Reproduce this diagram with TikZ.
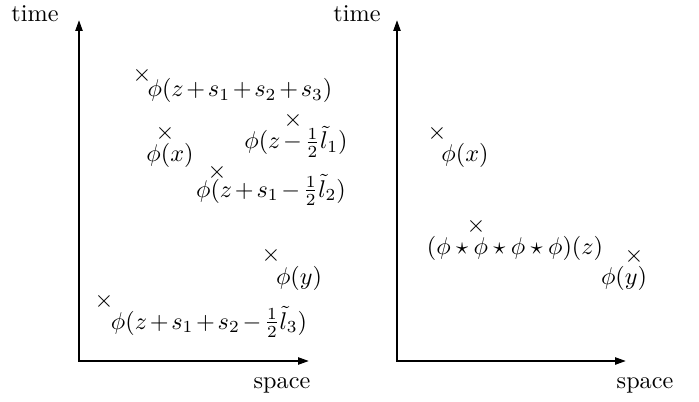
\documentclass[tikz,border=0pt]{standalone}
\usetikzlibrary{arrows.meta}
\newcommand{\tp}{\mskip2mu{+}\mskip2mu}
\newcommand{\tm}{\mskip2mu{-}\mskip2mu}
\begin{document}
\begin{tikzpicture}[x=0.4132pt,y=-0.4132pt,
  axis/.style={line width=0.85pt,line cap=rect,-{Triangle[length=4.5pt,width=2.9pt]}},
  crossmark/.style={inner sep=0pt},
  lbl/.style={anchor=base,inner sep=0pt},
  formula/.style={anchor=base,inner sep=0pt},
]
\useasboundingbox (0,0) rectangle (699,401);
% left axes
\coordinate (o1) at (79,361);
\coordinate (t1) at (79,20);
\coordinate (e1) at (309,361);
\draw[axis] (o1) -- (t1);
\draw[axis] (o1) -- (e1);
% right axes
\coordinate (o2) at (397,361);
\coordinate (t2) at (397,20);
\coordinate (e2) at (626,361);
\draw[axis] (o2) -- (t2);
\draw[axis] (o2) -- (e2);
% axis labels
\node[lbl] (time1) at (35,22) {time};
\node[lbl] (time2) at (357,22) {time};
\node[lbl] (space1) at (282,388) {space};
\node[lbl] (space2) at (645,388) {space};
% left crosses
\node[crossmark] (c1) at (142,75) {$\times$};
\node[crossmark] (c2) at (165,133) {$\times$};
\node[crossmark] (c3) at (293,120) {$\times$};
\node[crossmark] (c4) at (217,172) {$\times$};
\node[crossmark] (c5) at (271,255) {$\times$};
\node[crossmark] (c6) at (104,301) {$\times$};
% left formulas
\node[formula] (f1) at (240,97) {$\phi(z\tp s_1\tp s_2\tp s_3)$};
\node[formula] (f2) at (170,161) {$\phi(x)$};
\node[formula] (f3) at (296,149) {$\phi(z\tm\frac{1}{2}\tilde{l}_1)$};
\node[formula] (f4) at (271,197) {$\phi(z\tp s_1\tm\frac{1}{2}\tilde{l}_2)$};
\node[formula] (f5) at (299,284) {$\phi(y)$};
\node[formula] (f6) at (209,329) {$\phi(z\tp s_1\tp s_2\tm\frac{1}{2}\tilde{l}_3)$};
% right crosses
\node[crossmark] (d1) at (437,133) {$\times$};
\node[crossmark] (d2) at (476,226) {$\times$};
\node[crossmark] (d3) at (634,256) {$\times$};
% right formulas
\node[formula] (g1) at (465,161) {$\phi(x)$};
\node[formula] (g2) at (515,254) {$(\phi\star\phi\star\phi\star\phi)(z)$};
\node[formula] (g3) at (624,284) {$\phi(y)$};
\end{tikzpicture}
\end{document}
